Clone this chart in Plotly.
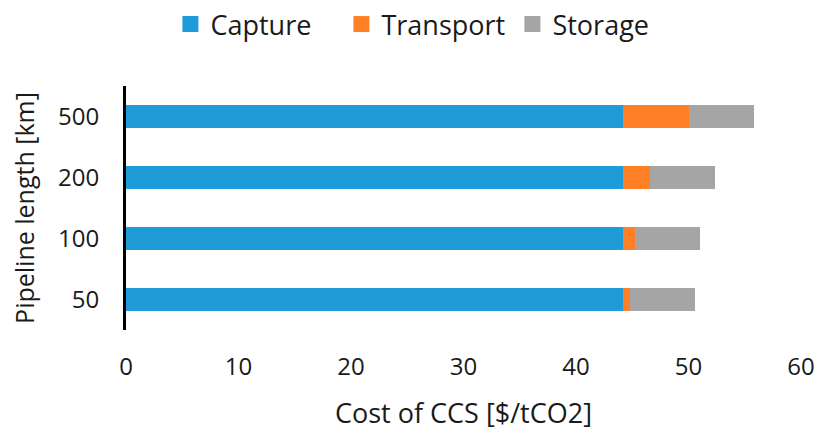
import plotly.graph_objects as go

categories = ["50", "100", "200", "500"]
capture = [44.2, 44.2, 44.2, 44.2]
transport = [0.57, 1.07, 2.35, 5.87]
storage = [5.8, 5.78, 5.83, 5.78]
x_ticks = [0, 10, 20, 30, 40, 50, 60]
series_names = ["Capture", "Transport", "Storage"]
series_colors = ["#1F9BD8", "#FF7F27", "#A5A5A5"]
series_values = [capture, transport, storage]

fig = go.Figure()
for name, color, vals in zip(series_names, series_colors, series_values):
    fig.add_trace(go.Bar(y=categories, x=vals, name=name, orientation="h",
                         marker=dict(color=color, line=dict(width=0)),
                         showlegend=False))
# legend-only entries with larger square swatches
for name, color in zip(series_names, series_colors):
    fig.add_trace(go.Scatter(x=[None], y=[None], mode="markers", name=name,
                             marker=dict(symbol="square", size=18, color=color)))

font = "Open Sans, Carlito, Calibri, sans-serif"
fig.update_layout(
    barmode="stack",
    bargap=0.61,
    width=821, height=431,
    paper_bgcolor="white", plot_bgcolor="white",
    margin=dict(l=126, r=20, t=86, b=101, autoexpand=False),
    font=dict(family=font, size=24, color="#1a1a1a"),
    legend=dict(orientation="h", x=0.52, xanchor="center", xref="container",
                y=1.0, yanchor="top", yref="container",
                font=dict(size=27), traceorder="normal", itemwidth=30,
                entrywidth=126, entrywidthmode="pixels", tracegroupgap=0),
    xaxis=dict(range=[0, 60], tickvals=x_ticks, showgrid=False, zeroline=False,
               showline=False, ticks="", ticklen=0, ticklabelstandoff=20,
               title=dict(text="Cost of CCS [$/tCO2]", font=dict(size=27), standoff=26)),
    yaxis=dict(type="category", categoryorder="array", categoryarray=categories,
               showgrid=False, zeroline=False, showline=True, linecolor="black",
               linewidth=3, ticks="", ticklabelstandoff=19,
               title=dict(text="Pipeline length [km]", font=dict(size=25), standoff=17)),
)
fig.write_html("out.html", config={"displayModeBar": False},
               post_script="document.body.style.margin='0';")
